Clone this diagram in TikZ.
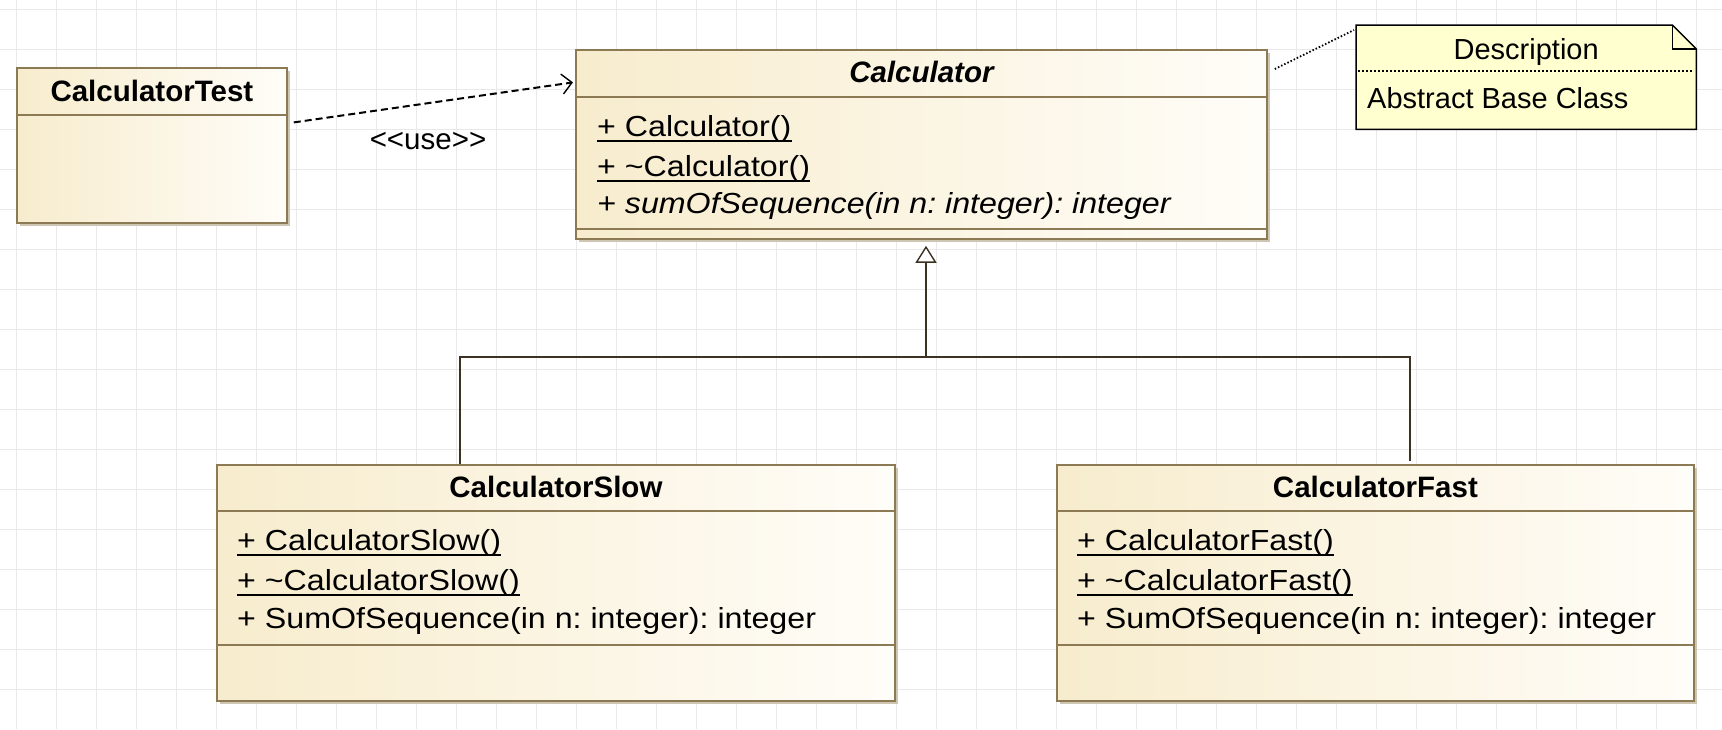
\documentclass[tikz,border=0pt]{standalone}
\usepackage{fontspec}
\setmainfont{Liberation Sans}
\newfontfamily\memfont[FakeStretch=1.11]{Liberation Sans}
\usetikzlibrary{positioning,arrows.meta,calc,shadows}
\definecolor{umlborder}{RGB}{140,122,84}
\definecolor{umlleft}{RGB}{247,236,205}
\definecolor{umlright}{RGB}{255,253,248}
\definecolor{umlshadow}{RGB}{206,198,178}
\definecolor{umlnote}{RGB}{255,255,208}
\definecolor{umlline}{RGB}{60,50,34}
\definecolor{gridc}{RGB}{233,233,233}
\tikzset{
  cls/.style={draw=umlborder, line width=1.8pt, left color=umlleft, right color=umlright,
              anchor=north west, inner sep=0pt,
              drop shadow={shadow xshift=3.5pt, shadow yshift=-3.5pt, fill=umlshadow, opacity=1}},
  cmpline/.style={draw=umlborder, line width=1.2pt},
  clsname/.style={font=\fontsize{29.5}{34}\selectfont\bfseries, anchor=base, inner sep=0pt},
  member/.style={font=\memfont\fontsize{29}{34}\selectfont\frenchspacing, anchor=base west, inner sep=0pt},
  uline/.style={line width=1.8pt},
  gen/.style={draw=umlline, line width=2pt},
  dep/.style={line width=2pt, dash pattern=on 7pt off 4pt,
              -{Straight Barb[length=10pt, width=20pt, line width=1.4pt]}},
  notebox/.style={draw=black, fill=umlnote, line width=1.5pt},
  notetext/.style={font=\fontsize{29}{34}\selectfont, inner sep=0pt},
  link/.style={line width=1.8pt, dash pattern=on 1.5pt off 2pt},
}
\begin{document}
\begin{tikzpicture}[x=1pt, y=-1pt]
  \fill[white] (0,0) rectangle (1722,729);
  \useasboundingbox (0,0) rectangle (1722,729);
  % background grid
  \foreach \gx in {16,56,...,1696} \draw[gridc, line width=1pt] (\gx,0) -- (\gx,729);
  \foreach \gy in {9,49,...,689} \draw[gridc, line width=1pt] (0,\gy) -- (1722,\gy);

  % CalculatorTest
  \node[cls, minimum width=270pt, minimum height=155pt] (test) at (16,67) {};
  \draw[cmpline] ($(test.north west)+(0,48)$) -- ($(test.north east)+(0,48)$);
  \node[clsname] (testname) at ($(test.north)+(0,34)$) {CalculatorTest};

  % Calculator (abstract)
  \node[cls, minimum width=691pt, minimum height=189pt] (calc) at (575,49) {};
  \draw[cmpline] ($(calc.north west)+(0,48)$) -- ($(calc.north east)+(0,48)$);
  \draw[cmpline] ($(calc.north west)+(0,180)$) -- ($(calc.north east)+(0,180)$);
  \node[clsname] (calcname) at ($(calc.north)+(0,33)$) {\itshape Calculator};
  \node[member] (c1) at ($(calc.north west)+(22,87)$) {+ Calculator()};
  \node[member] (c2) at ($(calc.north west)+(22,127)$) {+ \textasciitilde Calculator()};
  \node[member] (c3) at ($(calc.north west)+(22,164)$) {\itshape + sumOfSequence(in n: integer): integer};
  \draw[uline] ($(c1.base west)+(0,5)$) -- ($(c1.base east)+(0,5)$);
  \draw[uline] ($(c2.base west)+(0,5)$) -- ($(c2.base east)+(0,5)$);

  % CalculatorSlow
  \node[cls, minimum width=678pt, minimum height=236pt] (slow) at (216,464) {};
  \draw[cmpline] ($(slow.north west)+(0,47)$) -- ($(slow.north east)+(0,47)$);
  \draw[cmpline] ($(slow.north west)+(0,181)$) -- ($(slow.north east)+(0,181)$);
  \node[clsname] (slowname) at ($(slow.north)+(0,33)$) {CalculatorSlow};
  \node[member] (s1) at ($(slow.north west)+(21,86)$) {+ CalculatorSlow()};
  \node[member] (s2) at ($(slow.north west)+(21,126)$) {+ \textasciitilde CalculatorSlow()};
  \node[member] (s3) at ($(slow.north west)+(21,164)$) {+ SumOfSequence(in n: integer): integer};
  \draw[uline] ($(s1.base west)+(0,5)$) -- ($(s1.base east)+(0,5)$);
  \draw[uline] ($(s2.base west)+(0,5)$) -- ($(s2.base east)+(0,5)$);

  % CalculatorFast
  \node[cls, minimum width=637pt, minimum height=236pt] (fast) at (1056,464) {};
  \draw[cmpline] ($(fast.north west)+(0,47)$) -- ($(fast.north east)+(0,47)$);
  \draw[cmpline] ($(fast.north west)+(0,181)$) -- ($(fast.north east)+(0,181)$);
  \node[clsname] (fastname) at ($(fast.north)+(0,33)$) {CalculatorFast};
  \node[member] (f1) at ($(fast.north west)+(21,86)$) {+ CalculatorFast()};
  \node[member] (f2) at ($(fast.north west)+(21,126)$) {+ \textasciitilde CalculatorFast()};
  \node[member] (f3) at ($(fast.north west)+(21,164)$) {+ SumOfSequence(in n: integer): integer};
  \draw[uline] ($(f1.base west)+(0,5)$) -- ($(f1.base east)+(0,5)$);
  \draw[uline] ($(f2.base west)+(0,5)$) -- ($(f2.base east)+(0,5)$);

  % note
  \node[minimum width=340pt, minimum height=104pt, anchor=north west, inner sep=0pt] (note) at (1356,25) {};
  \draw[notebox] (note.north west) -- ($(note.north east)+(-24,0)$) -- ($(note.north east)+(0,24)$)
       -- (note.south east) -- (note.south west) -- cycle;
  \draw[line width=1.5pt] ($(note.north east)+(-24,0)$) -- ($(note.north east)+(-24,24)$) -- ($(note.north east)+(0,24)$);
  \draw[line width=2pt, dash pattern=on 2pt off 2pt] ($(note.north west)+(2,46)$) -- ($(note.north east)+(-3,46)$);
  \node[notetext, anchor=base] (notehead) at ($(note.north)+(0,34)$) {Description};
  \node[notetext, anchor=base west] (notebody) at ($(note.north west)+(11,83)$) {Abstract Base Class};

  % use dependency
  \coordinate (usefrom) at ($(test.east)+(6,-23)$);
  \coordinate (useto) at ($(calc.west)+(-2,-62)$);
  \draw[dep] (usefrom) -- (useto);
  \node[font=\fontsize{29.5}{34}\selectfont, inner sep=0pt] (uselbl) at (428,141) {<\kern0pt<use>\kern0pt>};

  % generalization
  \coordinate (fork) at (926,357);
  \coordinate (slowjoin) at ($(slow.north west)+(244,0)$);
  \coordinate (fastjoin) at ($(fast.north west)+(354,-3)$);
  \draw[gen] (slowjoin) |- (fork) -| (fastjoin);
  \draw[gen, -{Triangle[open, fill=white, length=17pt, width=21pt, line width=1.4pt]}, shorten >=6pt]
       (fork) -- (fork |- calc.south);

  % note link
  \coordinate (calclink) at ($(calc.north east)+(7,20)$);
  \coordinate (notelink) at ($(note.north west)+(-2,5)$);
  \draw[link] (calclink) -- (notelink);
\end{tikzpicture}
\end{document}
